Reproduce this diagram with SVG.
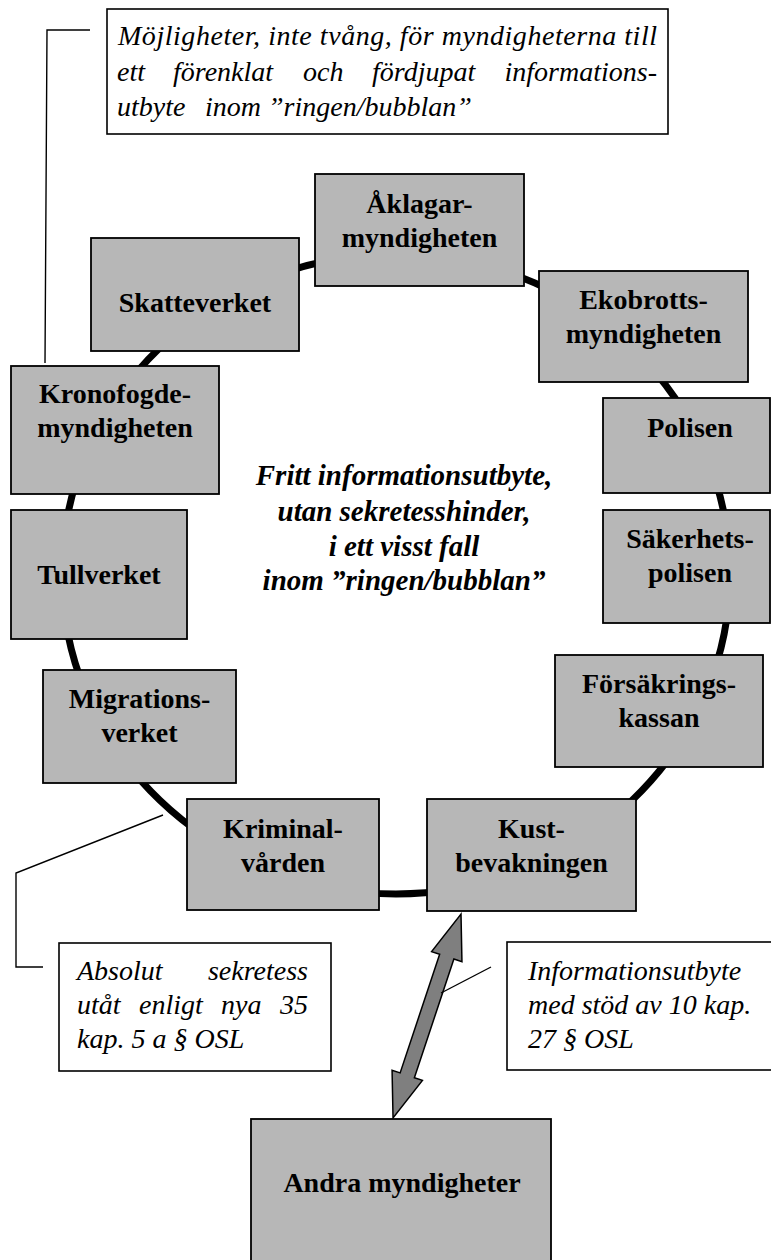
<svg xmlns="http://www.w3.org/2000/svg" width="771" height="1260" viewBox="0 0 771 1260">
<style>
.node{fill:#b7b7b7;stroke:#000;stroke-width:1.8}
.box{fill:#fff;stroke:#000;stroke-width:1.6}
.lbl{font-family:"Liberation Serif","Times New Roman",serif;font-weight:bold;font-size:28px;fill:#000;text-anchor:middle}
.it{font-family:"Liberation Serif","Times New Roman",serif;font-style:italic;font-size:28px;fill:#000}
.ctr{font-family:"Liberation Serif","Times New Roman",serif;font-style:italic;font-weight:bold;font-size:29px;fill:#000;text-anchor:middle}
.call{fill:none;stroke:#000;stroke-width:1.4}
.ring{fill:none;stroke:#000;stroke-width:7}
.arrow{fill:#7f7f7f;stroke:#000;stroke-width:1.5;stroke-linejoin:miter}
</style>
<rect width="771" height="1260" fill="#fff"/>
<g id="connectors">
  <ellipse class="ring" cx="396" cy="574" rx="334" ry="320"/>
  <polygon class="arrow" transform="translate(461,914) rotate(108.43)" points="0,0 45,-16 45,-7.5 170,-7.5 170,-16 215,0 170,16 170,7.5 45,7.5 45,16"/>
  <polyline class="call" points="90,30 47,30 45,363"/>
  <polyline class="call" points="163,815 16,873 16,967 43,967"/>
  <line class="call" x1="491" y1="967" x2="441" y2="993"/>
</g>
<g id="note-top">
  <rect class="box" x="107" y="9" width="561" height="125"/>
  <text class="it" x="118" y="45" textLength="539" lengthAdjust="spacing">Möjligheter, inte tvång, för myndigheterna till</text>
  <text class="it" y="81"><tspan x="117">ett</tspan><tspan x="173">förenklat</tspan><tspan x="303">och</tspan><tspan x="372">fördjupat</tspan><tspan x="657" text-anchor="end">informations-</tspan></text>
  <text class="it" y="116"><tspan x="117">utbyte</tspan><tspan x="205">inom ”ringen/bubblan”</tspan></text>
</g>
<g id="aklagar"><rect class="node" x="315" y="174" width="209" height="112"/><text class="lbl" x="419.5" y="213">Åklagar-</text><text class="lbl" x="419.5" y="247">myndigheten</text></g>
<g id="skatteverket"><rect class="node" x="91" y="238" width="208" height="113"/><text class="lbl" x="195" y="312">Skatteverket</text></g>
<g id="ekobrott"><rect class="node" x="539" y="271" width="209" height="111"/><text class="lbl" x="643.5" y="309">Ekobrotts-</text><text class="lbl" x="643.5" y="343">myndigheten</text></g>
<g id="kronofogde"><rect class="node" x="11" y="366" width="208" height="128"/><text class="lbl" x="115" y="403">Kronofogde-</text><text class="lbl" x="115" y="437">myndigheten</text></g>
<g id="polisen"><rect class="node" x="603" y="398" width="167" height="95"/><text class="lbl" x="690" y="437">Polisen</text></g>
<g id="tullverket"><rect class="node" x="11" y="510" width="176" height="129"/><text class="lbl" x="99" y="584">Tullverket</text></g>
<g id="sakerhetspolisen"><rect class="node" x="603" y="510" width="167" height="113"/><text class="lbl" x="690" y="548">Säkerhets-</text><text class="lbl" x="690" y="582">polisen</text></g>
<g id="migrationsverket"><rect class="node" x="43" y="670" width="193" height="113"/><text class="lbl" x="139.5" y="708">Migrations-</text><text class="lbl" x="139.5" y="742">verket</text></g>
<g id="forsakringskassan"><rect class="node" x="555" y="655" width="208" height="112"/><text class="lbl" x="659" y="693">Försäkrings-</text><text class="lbl" x="659" y="727">kassan</text></g>
<g id="kriminalvarden"><rect class="node" x="187" y="799" width="192" height="111"/><text class="lbl" x="283" y="838">Kriminal-</text><text class="lbl" x="283" y="872">vården</text></g>
<g id="kustbevakningen"><rect class="node" x="427" y="799" width="209" height="112"/><text class="lbl" x="531.5" y="838">Kust-</text><text class="lbl" x="531.5" y="872">bevakningen</text></g>
<g id="andra"><rect class="node" x="251" y="1119" width="300" height="150"/><text class="lbl" x="402" y="1192">Andra myndigheter</text></g>
<g id="center-text">
  <text class="ctr" x="404" y="485">Fritt informationsutbyte,</text>
  <text class="ctr" x="404" y="521">utan sekretesshinder,</text>
  <text class="ctr" x="404" y="556">i ett visst fall</text>
  <text class="ctr" x="404" y="590">inom ”ringen/bubblan”</text>
</g>
<g id="note-absolut">
  <rect class="box" x="59" y="943" width="272" height="128"/>
  <text class="it" y="980"><tspan x="77">Absolut</tspan><tspan x="308" text-anchor="end">sekretess</tspan></text>
  <text class="it" y="1014"><tspan x="77">utåt</tspan><tspan x="139">enligt</tspan><tspan x="221">nya</tspan><tspan x="308" text-anchor="end">35</tspan></text>
  <text class="it" x="77" y="1048">kap. 5 a § OSL</text>
</g>
<g id="note-info">
  <rect class="box" x="507" y="942" width="280" height="128"/>
  <text class="it" x="528" y="980">Informationsutbyte</text>
  <text class="it" x="528" y="1014">med stöd av 10 kap.</text>
  <text class="it" x="528" y="1048">27 § OSL</text>
</g>
</svg>
